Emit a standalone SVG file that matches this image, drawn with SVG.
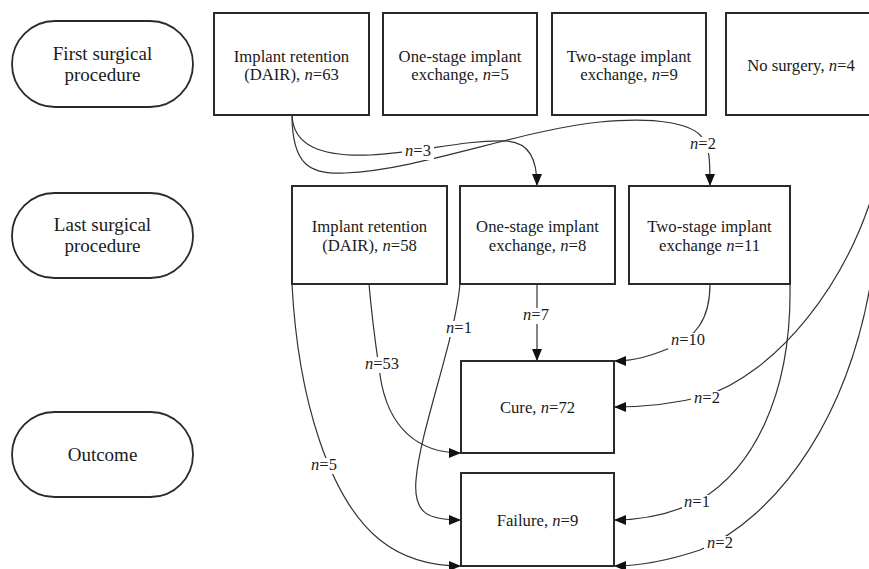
<svg xmlns="http://www.w3.org/2000/svg" width="869" height="569" viewBox="0 0 869 569">
<style>
.box{fill:#fff;stroke:#2a2a2a;stroke-width:2}
.pill{fill:#fff;stroke:#2a2a2a;stroke-width:1.8}
.t{font-family:"Liberation Serif","Times New Roman",serif;font-size:16.7px;fill:#1a1a1a;text-anchor:middle}
.p{font-family:"Liberation Serif","Times New Roman",serif;font-size:19px;fill:#1a1a1a;text-anchor:middle}
.lt{font-family:"Liberation Serif","Times New Roman",serif;font-size:16.5px;fill:#1a1a1a;text-anchor:middle}
.bg{fill:#fff}
.c{fill:none;stroke:#333;stroke-width:1.2;marker-end:url(#ah)}
.i{font-style:italic}
</style>
<defs>
<marker id="ah" markerUnits="userSpaceOnUse" markerWidth="12" markerHeight="10" refX="12" refY="5" orient="auto">
<path d="M0,0 L12,5 L0,10 z" fill="#111"/>
</marker>
</defs>
<rect width="869" height="569" fill="#fff"/>

<g id="connectors">
<path class="c" d="M292,115 C293,145 320,157 370,155 C420,153 460,140 505,141 C530,142 537,160 537,186"/>
<path class="c" d="M292,115 C292,165 310,175 345,173 C420,170 520,130 600,122 C660,116 690,125 700,135 C710,145 710,160 710,186"/>
<path class="c" d="M369,284 C373,330 378,360 380,375 C388,430 420,453 461,453"/>
<path class="c" d="M292,284 C298,400 330,500 380,540 C405,560 435,566 461,566"/>
<path class="c" d="M460,284 C455,340 420,430 416,480 C413,515 430,520 461,520"/>
<path class="c" d="M537,284 L537,361"/>
<path class="c" d="M710,284 C710,320 695,338 670,348 C650,356 635,361 614,361"/>
<path class="c" d="M882,160 C852,290 770,375 705,396 C670,405 640,407 614,407"/>
<path class="c" d="M790,284 C792,400 750,470 700,500 C670,515 640,520 614,520"/>
<path class="c" d="M878,225 C862,420 770,520 700,550 C670,560 640,566 614,566"/>
<g id="labels">
<rect class="bg" x="402" y="144" width="32" height="16"/>
<text class="lt" x="418" y="156"><tspan class="i">n</tspan>=3</text>
<rect class="bg" x="687" y="137" width="32" height="16"/>
<text class="lt" x="703" y="149"><tspan class="i">n</tspan>=2</text>
<rect class="bg" x="362" y="357" width="40" height="16"/>
<text class="lt" x="382" y="369"><tspan class="i">n</tspan>=53</text>
<rect class="bg" x="308" y="458" width="32" height="16"/>
<text class="lt" x="324" y="470"><tspan class="i">n</tspan>=5</text>
<rect class="bg" x="444" y="321" width="30" height="16"/>
<text class="lt" x="459" y="333"><tspan class="i">n</tspan>=1</text>
<rect class="bg" x="520" y="308" width="32" height="16"/>
<text class="lt" x="536" y="320"><tspan class="i">n</tspan>=7</text>
<rect class="bg" x="668" y="333" width="40" height="16"/>
<text class="lt" x="688" y="345"><tspan class="i">n</tspan>=10</text>
<rect class="bg" x="691" y="391" width="32" height="16"/>
<text class="lt" x="707" y="403"><tspan class="i">n</tspan>=2</text>
<rect class="bg" x="682" y="495" width="30" height="16"/>
<text class="lt" x="697" y="507"><tspan class="i">n</tspan>=1</text>
<rect class="bg" x="704" y="536" width="32" height="16"/>
<text class="lt" x="720" y="548"><tspan class="i">n</tspan>=2</text>
</g>
</g>

<g id="pill-first">
<rect class="pill" x="12" y="21" width="181" height="86" rx="43" ry="43"/>
<text class="p" x="102.5" y="60">First surgical</text>
<text class="p" x="102.5" y="81">procedure</text>
</g>
<g id="pill-last">
<rect class="pill" x="12" y="193" width="181" height="85" rx="42.5" ry="42.5"/>
<text class="p" x="102.5" y="231">Last surgical</text>
<text class="p" x="102.5" y="252">procedure</text>
</g>
<g id="pill-outcome">
<rect class="pill" x="12" y="412" width="181" height="85" rx="42.5" ry="42.5"/>
<text class="p" x="102.5" y="461">Outcome</text>
</g>

<g id="first-dair">
<rect class="box" x="214" y="13" width="155" height="102"/>
<text class="t" x="291.5" y="62">Implant retention</text>
<text class="t" x="291.5" y="80">(DAIR), <tspan class="i">n</tspan>=63</text>
</g>
<g id="first-one">
<rect class="box" x="383" y="13" width="154" height="102"/>
<text class="t" x="460" y="62">One-stage implant</text>
<text class="t" x="460" y="80">exchange, <tspan class="i">n</tspan>=5</text>
</g>
<g id="first-two">
<rect class="box" x="552" y="13" width="154" height="102"/>
<text class="t" x="629" y="62">Two-stage implant</text>
<text class="t" x="629" y="80">exchange, <tspan class="i">n</tspan>=9</text>
</g>
<g id="first-none">
<rect class="box" x="726" y="13" width="152" height="102"/>
<text class="t" x="801" y="71">No surgery, <tspan class="i">n</tspan>=4</text>
</g>

<g id="last-dair">
<rect class="box" x="292" y="186" width="155" height="98"/>
<text class="t" x="369.5" y="232">Implant retention</text>
<text class="t" x="369.5" y="251">(DAIR), <tspan class="i">n</tspan>=58</text>
</g>
<g id="last-one">
<rect class="box" x="460" y="186" width="155" height="98"/>
<text class="t" x="537.5" y="232">One-stage implant</text>
<text class="t" x="537.5" y="251">exchange, <tspan class="i">n</tspan>=8</text>
</g>
<g id="last-two">
<rect class="box" x="629" y="186" width="161" height="98"/>
<text class="t" x="709.5" y="232">Two-stage implant</text>
<text class="t" x="709.5" y="251">exchange <tspan class="i">n</tspan>=11</text>
</g>

<g id="cure">
<rect class="box" x="461" y="361" width="153" height="92"/>
<text class="t" x="537.5" y="413">Cure, <tspan class="i">n</tspan>=72</text>
</g>
<g id="failure">
<rect class="box" x="461" y="473" width="153" height="93"/>
<text class="t" x="537.5" y="526">Failure, <tspan class="i">n</tspan>=9</text>
</g>
</svg>
